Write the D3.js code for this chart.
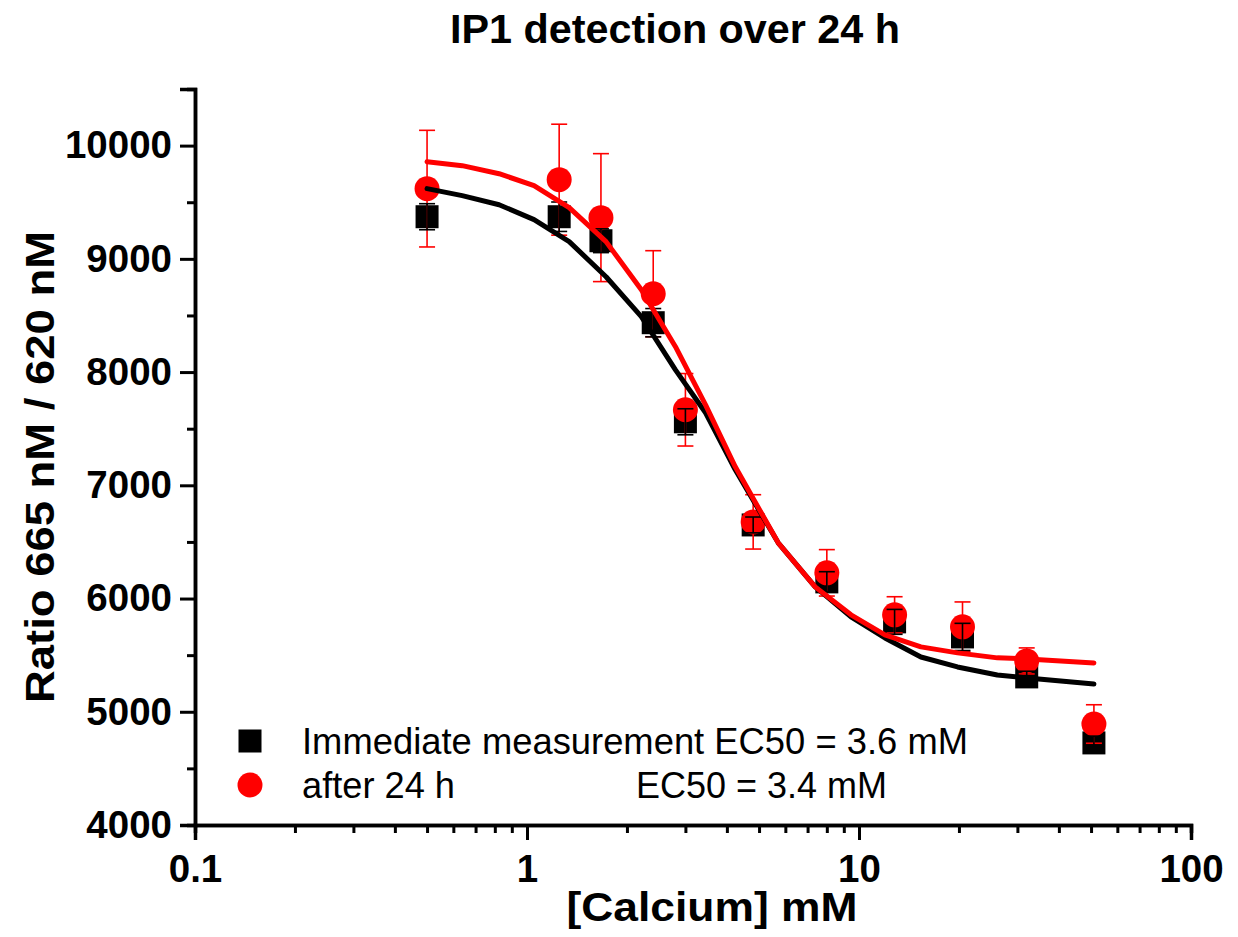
<!DOCTYPE html>
<html>
<head>
<meta charset="utf-8">
<script src="https://cdn.jsdelivr.net/npm/d3@7"></script>
<style>
  body { margin: 0; background: #fff; }
  svg text { font-family: "Liberation Sans", Arial, sans-serif; }
</style>
</head>
<body>
<div id="chart"></div>
<script>
// concentrations (mM)
const conc = [0.5, 1.25, 1.67, 2.4, 3.0, 4.8, 8.0, 12.8, 20.5, 32, 51];
// immediate measurement
const immediate = [9372, 9372, 9160, 8436, 7561, 6650, 6147, 5794, 5661, 5308, 4725];
const immediateErr = [115, 130, 105, 125, 115, 70, 90, 110, 120, 50, 60];
// after 24 h
const after24 = [9620, 9699, 9364, 8692, 7667, 6677, 6227, 5856, 5750, 5449, 4892];
const after24Err = [515, 490, 565, 380, 320, 240, 205, 160, 220, 115, 170];

// fitted curves
const fitX = [0.5, 0.638, 0.824, 1.05, 1.34, 1.73, 2.21, 2.8, 3.45, 4.24, 5.71, 7.38, 9.46, 11.97, 15.36, 19.8, 26.1, 32.2, 51];
const fitImmediate = [9620, 9558, 9478, 9346, 9152, 8842, 8489, 8020, 7641, 7137, 6492, 6103, 5838, 5652, 5484, 5396, 5325, 5299, 5246];
const fitAfter24 = [9858, 9823, 9752, 9646, 9452, 9152, 8727, 8224, 7711, 7163, 6492, 6103, 5856, 5679, 5573, 5520, 5476, 5467, 5431];

// ticks
const xMajor = [0.1, 1, 10, 100];
const xMinor = [0.2, 0.3, 0.4, 0.5, 0.6, 0.7, 0.8, 0.9, 2, 3, 4, 5, 6, 7, 8, 9, 20, 30, 40, 50, 60, 70, 80, 90];
const yMajor = [4000, 5000, 6000, 7000, 8000, 9000, 10000];
const yMinor = [4500, 5500, 6500, 7500, 8500, 9500, 10500];

const legendItems = ["Immediate measurement EC50 = 3.6 mM", "after 24 h"];

const W = 1238, H = 937;
const svg = d3.select("#chart").append("svg")
  .attr("width", W).attr("height", H);

const x = d3.scaleLog().domain([0.1, 100]).range([195, 1191]);
const y = d3.scaleLinear().domain([4000, 10500]).range([825, 89]);

// axes
function styleAxis(g) {
  g.select(".domain").attr("stroke", "#000").attr("stroke-width", 3.5);
  g.selectAll(".tick line").attr("stroke", "#000").attr("stroke-width", 3);
  g.selectAll(".tick text")
    .attr("fill", "#000")
    .style("font-size", "38.5px")
    .style("font-weight", "bold");
}

svg.append("g")
  .attr("transform", "translate(0,825)")
  .call(d3.axisBottom(x).tickValues(xMinor).tickSize(8).tickFormat(""))
  .call(styleAxis);
svg.append("g")
  .attr("transform", "translate(0,825)")
  .call(d3.axisBottom(x).tickValues(xMajor).tickSize(15).tickPadding(15).tickFormat(d => d))
  .call(styleAxis);

svg.append("g")
  .attr("transform", "translate(195,0)")
  .call(d3.axisLeft(y).tickValues(yMinor).tickSize(8).tickFormat(""))
  .call(styleAxis);
svg.append("g")
  .attr("transform", "translate(195,0)")
  .call(d3.axisLeft(y).tickValues(yMajor).tickSize(15).tickPadding(8).tickFormat(d => d))
  .call(styleAxis);

// markers
const immData = conc.map((c, i) => ({ c: c, v: immediate[i], e: immediateErr[i] }));
const aftData = conc.map((c, i) => ({ c: c, v: after24[i], e: after24Err[i] }));

const sq = 23;
svg.append("g").selectAll("rect").data(immData).enter().append("rect")
  .attr("x", d => x(d.c) - sq / 2)
  .attr("y", d => y(d.v) - sq / 2)
  .attr("width", sq).attr("height", sq)
  .attr("fill", "#000");

svg.append("g").selectAll("circle").data(aftData).enter().append("circle")
  .attr("cx", d => x(d.c))
  .attr("cy", d => y(d.v))
  .attr("r", 12.5)
  .attr("fill", "#ff0000");

// error bars
function errorBars(data, color) {
  const g = svg.append("g").attr("stroke", color).attr("stroke-width", 1.6);
  const cap = 8;
  data.forEach(d => {
    const cx = x(d.c);
    g.append("line").attr("x1", cx).attr("x2", cx)
      .attr("y1", y(d.v + d.e)).attr("y2", y(d.v - d.e));
    g.append("line").attr("x1", cx - cap).attr("x2", cx + cap)
      .attr("y1", y(d.v + d.e)).attr("y2", y(d.v + d.e));
    g.append("line").attr("x1", cx - cap).attr("x2", cx + cap)
      .attr("y1", y(d.v - d.e)).attr("y2", y(d.v - d.e));
  });
}
errorBars(aftData, "#ff0000");
errorBars(immData, "#000");

// fitted lines
const line = d3.line().x(d => x(d[0])).y(d => y(d[1]));
svg.append("path")
  .datum(fitX.map((c, i) => [c, fitImmediate[i]]))
  .attr("d", line).attr("fill", "none")
  .attr("stroke", "#000").attr("stroke-width", 5)
  .attr("stroke-linecap", "round").attr("stroke-linejoin", "round");
svg.append("path")
  .datum(fitX.map((c, i) => [c, fitAfter24[i]]))
  .attr("d", line).attr("fill", "none")
  .attr("stroke", "#ff0000").attr("stroke-width", 5)
  .attr("stroke-linecap", "round").attr("stroke-linejoin", "round");

// legend
svg.append("rect").attr("x", 250 - sq / 2).attr("y", 741 - sq / 2)
  .attr("width", sq).attr("height", sq).attr("fill", "#000");
svg.append("circle").attr("cx", 250).attr("cy", 785).attr("r", 12.5).attr("fill", "#ff0000");
svg.append("text").attr("x", 302).attr("y", 754)
  .attr("textLength", 666).attr("lengthAdjust", "spacingAndGlyphs")
  .style("font-size", "37px").text(legendItems[0]);
svg.append("text").attr("x", 302).attr("y", 798)
  .attr("textLength", 153).attr("lengthAdjust", "spacingAndGlyphs")
  .style("font-size", "37px").text(legendItems[1]);
svg.append("text").attr("x", 636).attr("y", 798)
  .attr("textLength", 251).attr("lengthAdjust", "spacingAndGlyphs")
  .style("font-size", "37px").text("EC50 = 3.4 mM");

// titles
svg.append("text")
  .attr("x", 675).attr("y", 43)
  .attr("text-anchor", "middle")
  .attr("textLength", 450).attr("lengthAdjust", "spacingAndGlyphs")
  .style("font-size", "40px").style("font-weight", "bold")
  .text("IP1 detection over 24 h");

svg.append("text")
  .attr("x", 712).attr("y", 921)
  .attr("text-anchor", "middle")
  .attr("textLength", 291).attr("lengthAdjust", "spacingAndGlyphs")
  .style("font-size", "40px").style("font-weight", "bold")
  .text("[Calcium] mM");

svg.append("text")
  .attr("transform", "translate(54,467) rotate(-90)")
  .attr("text-anchor", "middle")
  .attr("textLength", 472).attr("lengthAdjust", "spacingAndGlyphs")
  .style("font-size", "40px").style("font-weight", "bold")
  .text("Ratio 665 nM / 620 nM");
</script>
</body>
</html>
